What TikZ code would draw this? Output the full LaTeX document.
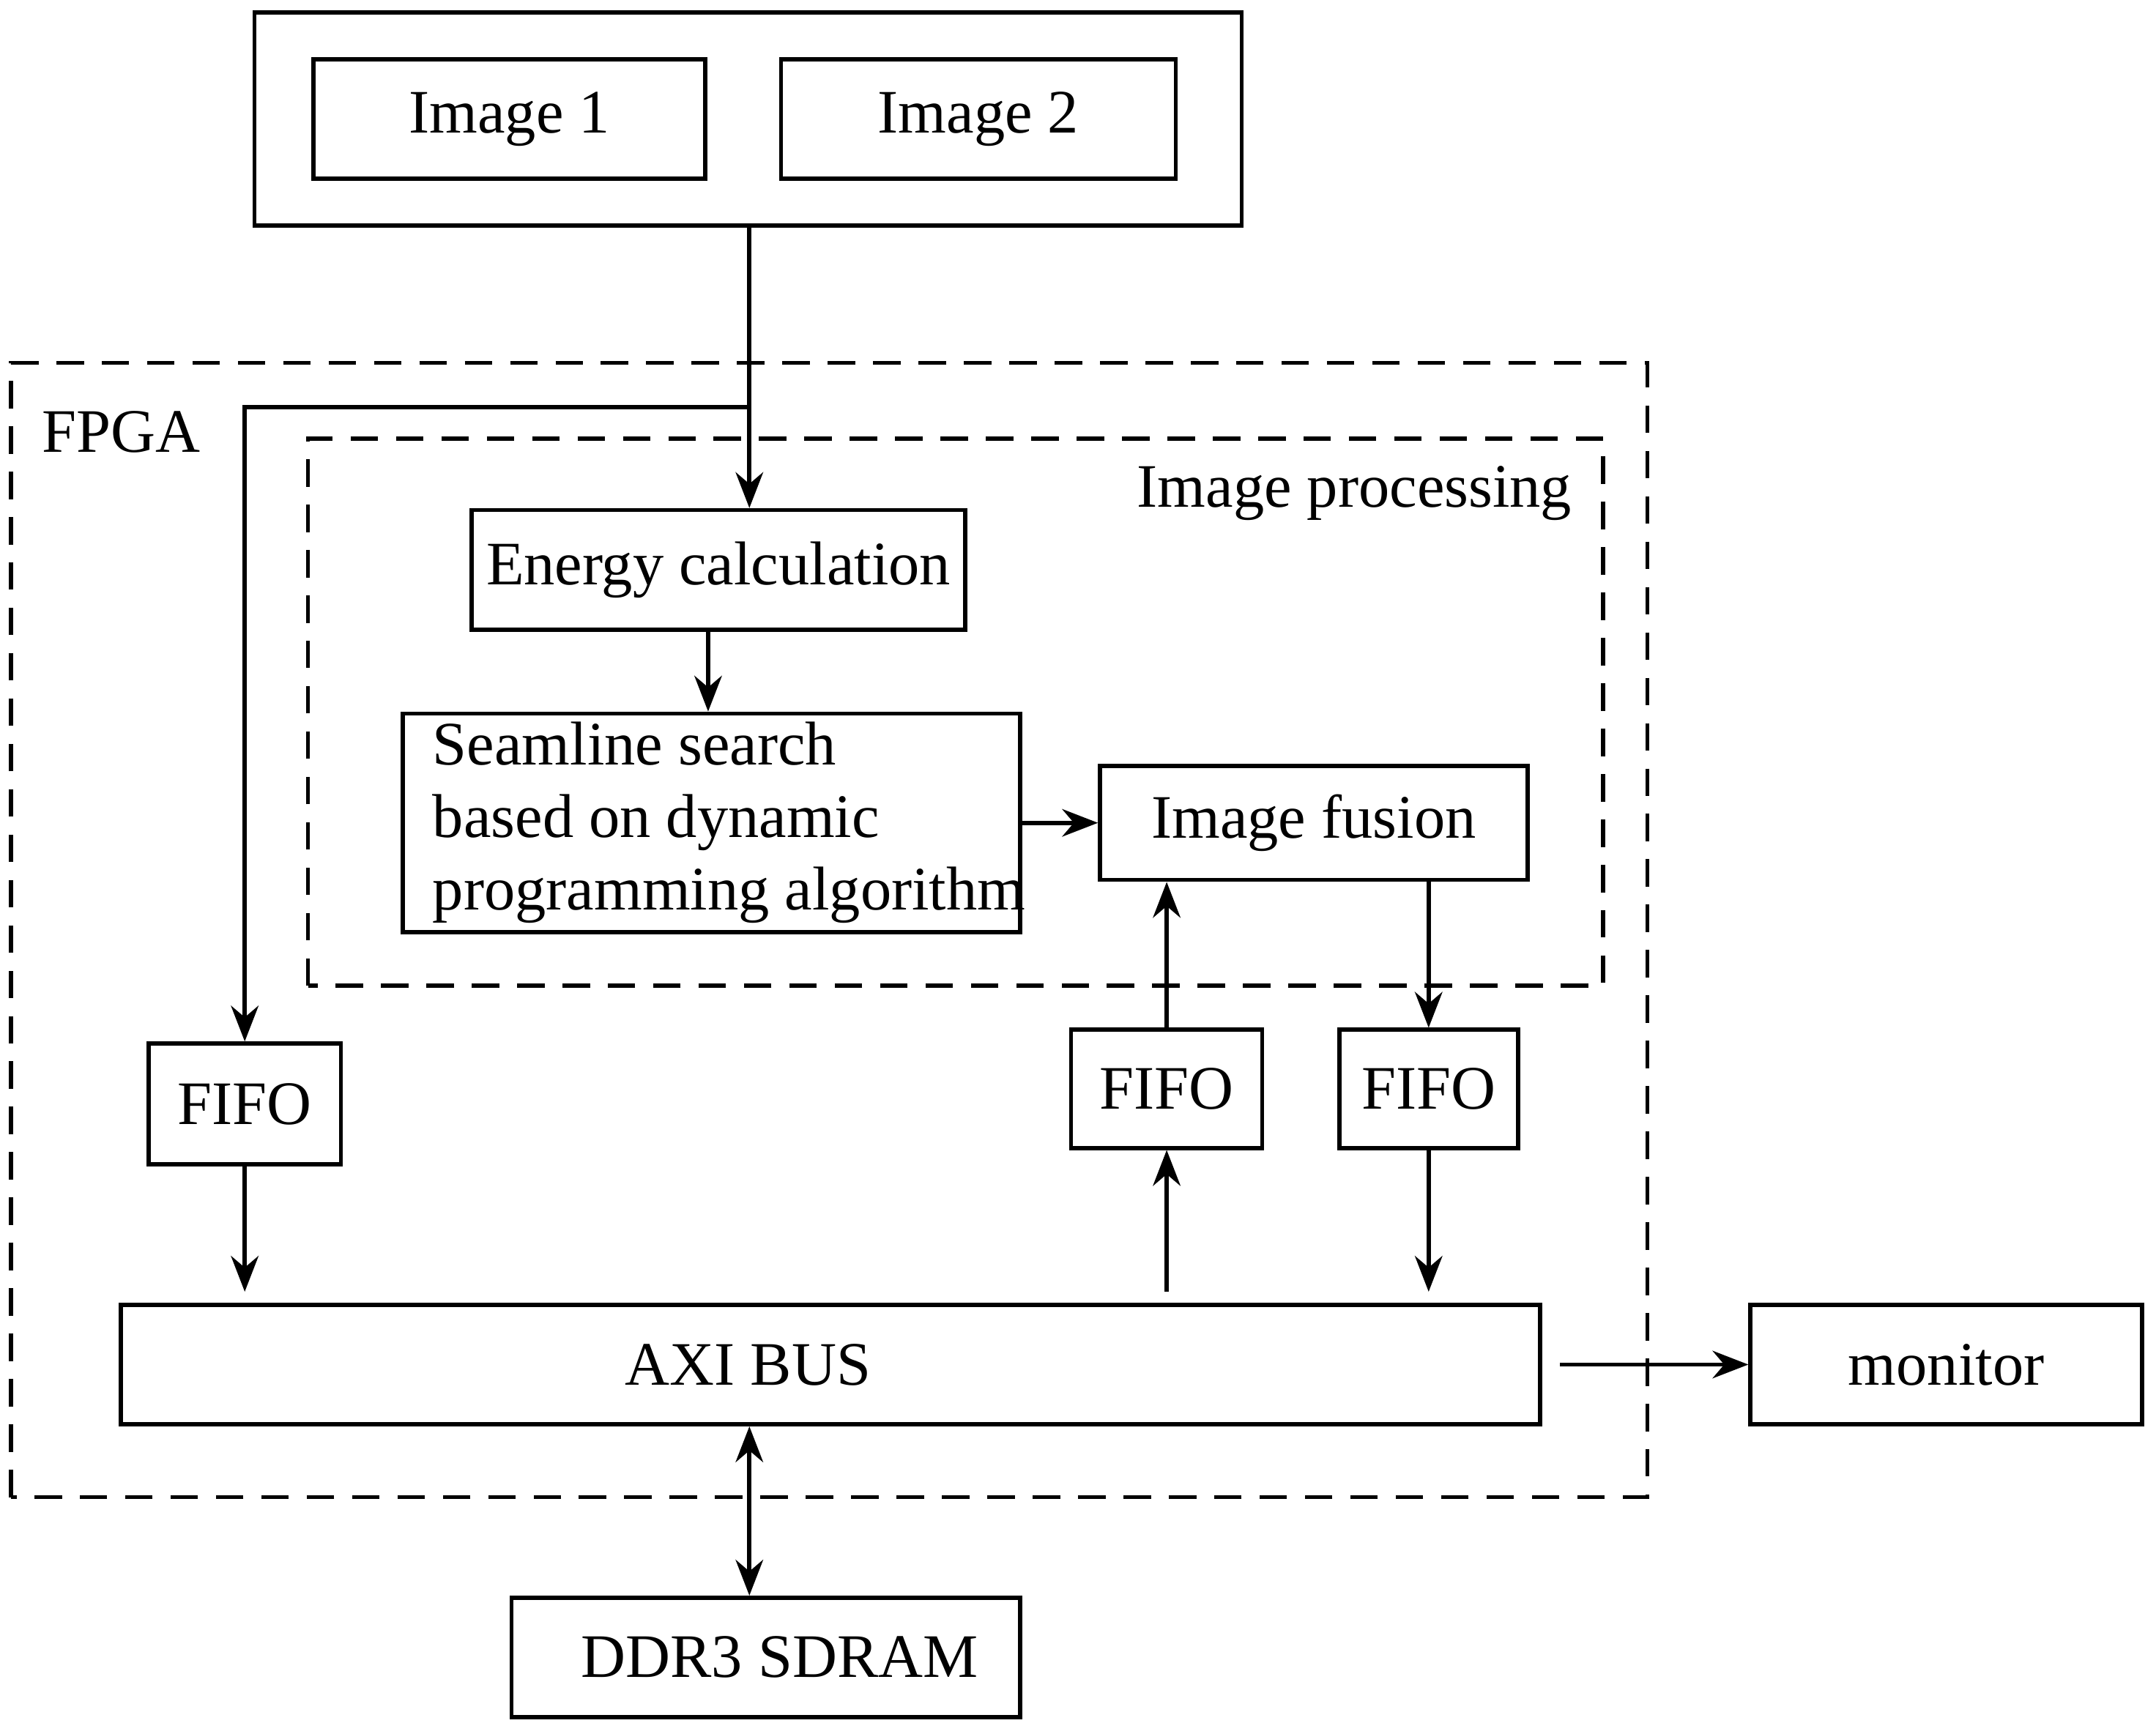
\documentclass[tikz,border=0pt]{standalone}
\usepackage{fontspec}
\setmainfont{Liberation Serif}
\usetikzlibrary{arrows.meta,positioning,calc}

\begin{document}
\begin{tikzpicture}[
		>={Stealth[length=2.6mm,width=2mm]},
		line width=0.85pt,
		block/.style={draw, rectangle, inner sep=0pt, align=center,
			font=\fontsize{12.8}{15}\selectfont},
		region/.style={draw, dash pattern=on 2mm off 1.3mm},
		flow/.style={->},
		caption/.style={font=\fontsize{12.8}{15}\selectfont}
		]
		\useasboundingbox (0,0) rectangle (15.68,12.61);
		
		% sources
		\node[block, minimum width=7.18cm, minimum height=1.55cm] (source) at (5.44,11.745) {};
		\node[block, minimum width=2.85cm, minimum height=0.87cm] (img1) at (3.705,11.745) {Image 1};
		\node[block, minimum width=2.87cm, minimum height=0.87cm] (img2) at (7.115,11.745) {Image 2};
		
		% regions
		\draw[region] (0.08,1.72) rectangle (11.98,9.97);
		\node[caption] (fpga) at (0.88,9.47) {FPGA};
		\draw[region] (2.24,5.44) rectangle (11.66,9.42);
		\node[caption] (proc) at (9.85,9.02) {Image processing};
		
		% blocks
		\node[block, minimum width=3.59cm, minimum height=0.87cm] (energy) at (5.225,8.465) {Energy calculation};
		\node[block, minimum width=4.49cm, minimum height=1.59cm,
			label={[caption, align=left, anchor=west, xshift=0.1cm]west:Seamline search\\based on dynamic\\programming algorithm}] (seam) at (5.175,6.625) {};
		\node[block, minimum width=3.11cm, minimum height=0.83cm] (fusion) at (9.555,6.625) {Image fusion};
		\node[block, minimum width=1.40cm, minimum height=0.88cm] (fifo1) at (1.78,4.58) {FIFO};
		\node[block, minimum width=1.39cm, minimum height=0.86cm] (fifo2) at (8.485,4.69) {FIFO};
		\node[block, minimum width=1.30cm, minimum height=0.86cm] (fifo3) at (10.39,4.69) {FIFO};
		\node[block, minimum width=10.32cm, minimum height=0.87cm,
			label={[caption, xshift=-0.6cm]center:AXI BUS}] (axi) at (6.04,2.685) {};
		\node[block, minimum width=2.85cm, minimum height=0.87cm] (monitor) at (14.155,2.685) {monitor};
		\node[block, minimum width=3.70cm, minimum height=0.87cm] (ddr) at (5.57,0.555) {\hspace{0.2cm}DDR3 SDRAM};
		
		\coordinate (split) at (5.45,9.65);
		
		% connections
		\draw[flow] (source.south -| split) -- (energy.north -| split);
		\draw[flow] (split) -| (fifo1.north);
		\draw[flow] (energy.south -| 5.15,0) -- (seam.north -| 5.15,0);
		\draw[flow] (seam.east) -- (fusion.west);
		\draw[flow] (fusion.south -| fifo3.north) -- (fifo3.north);
		\draw[flow] (fifo2.north) -- (fusion.south -| fifo2.north);
		\draw[flow] (axi.north -| fifo2.south) ++(0,0.08) -- (fifo2.south);
		\draw[flow] (fifo3.south) -- ($(axi.north -| fifo3.south)+(0,0.08)$);
		\draw[flow] (fifo1.south) -- ($(axi.north -| fifo1.south)+(0,0.08)$);
		\draw[flow, shorten <=1.3mm] (axi.east) -- (monitor.west);
		\draw[<->] (axi.south -| split) -- (ddr.north -| split);
	\end{tikzpicture}
\end{document}
